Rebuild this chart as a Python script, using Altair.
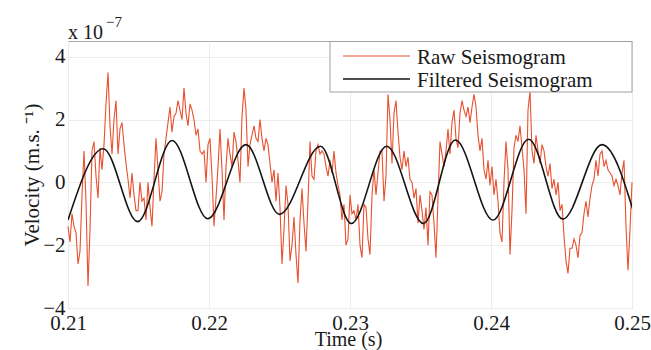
import altair as alt
import numpy as np
import pandas as pd

FONT = "Liberation Serif"
RED = "#e8502e"
TXT = "#1a1a1a"

# Time window (s) and axis ticks; velocities are in units of 1e-7 m/s
T_START, T_END = 0.21, 0.25
x_ticks = [0.21, 0.22, 0.23, 0.24, 0.25]
y_ticks = [-4, -2, 0, 2, 4]

raw_values = [
    -1.4, -1.9, -1.0, -1.4, -1.6, -2.6, -2.2, -0.4, 1.0, -0.6, -3.3, -1.5, 1.0, 1.3, 0.2, -0.5, 1.1, 0.4,
    1.2, 2.5, 3.5, 1.8, 0.9, 2.0, 2.6, 0.9, 1.7, 1.9, 1.2, 0.6, 0.1, -0.5, 0.3, -0.4, -0.9,
    -0.9, 0.0, -0.6, -0.5, -1.2, 0.0, -0.8, -1.4, 0.1, 1.4, 0.4, -0.6, -0.3, 0.9, 1.4, 1.9, 2.4, 1.6,
    2.1, 2.2, 2.6, 2.3, 2.0, 3.0, 2.2, 1.8, 2.5, 2.3, 2.0, 1.5, 1.7, 1.0, 0.9, 1.0, 0.0,
    1.2, 1.4, 0.2, -1.4, -0.5, 0.5, 1.7, 0.4, -1.2, 0.5, 1.4, 0.9, 0.5, 1.6, 1.3, 0.7, 0.0, 2.1,
    3.0, 2.3, 0.5, 1.2, 1.5, 1.8, 1.4, 1.3, 2.0, 1.4, 1.0, 1.4, 1.2, 0.6, 0.0, 0.4, -0.6,
    0.3, -0.8, -2.6, -1.5, -0.1, -0.7, -2.5, -2.0, -1.1, -2.3, -3.2, -1.2, -0.2, -1.3, -2.2, -0.6, 1.3, 0.2,
    0.1, 1.0, 1.2, 0.9, 1.0, 0.9, 0.5, 0.2, 0.7, 0.3, 1.0, 0.3, -0.1, -0.4, -1.2, -0.7, -2.0,
    -1.8, -0.4, -1.0, -0.9, -1.2, -0.7, -2.0, -2.4, -0.7, -0.8, -1.8, -2.3, -0.4, 0.4, -0.4, 0.3, 1.0, 1.0,
    -0.6, 0.2, 2.8, 2.0, 0.6, 2.2, 2.6, 1.6, 0.8, 0.4, 1.0, 0.5, 0.8, 0.1, 0.0, -0.5, -0.2,
    -1.3, -0.4, -0.9, -1.5, -0.8, -2.0, -0.3, -0.4, -1.3, -2.4, -0.5, 1.3, 0.9, 0.5, 1.0, 1.7, 0.9, 1.9,
    2.3, 1.4, 1.1, 2.2, 2.6, 2.3, 2.1, 2.4, 1.9, 2.4, 2.8, 2.4, 1.5, 1.0, 1.4, 0.4, 0.1,
    0.7, -0.1, 0.5, -0.4, 0.1, -0.6, -1.6, -1.9, 0.0, 1.3, 0.4, -2.3, -0.9, 1.1, 1.5, 1.3, 1.8, 1.1,
    0.4, -1.0, 2.3, 2.9, 1.0, 0.6, 1.5, 1.0, 0.6, 1.2, 1.0, 0.5, 0.2, 0.6, -0.2, 0.1, -0.4,
    0.0, -0.9, -0.7, -1.7, -2.5, -2.9, -2.1, -2.1, -1.8, -2.0, -2.4, -1.7, -1.6, -1.0, -0.6, -1.1, -0.5, -0.1,
    0.1, 0.7, 0.2, 0.9, 1.0, 0.5, 0.7, 0.4, 0.3, 0.2, -0.1, 0.1, -0.1, -0.4, 0.3, 0.7, -1.4, -2.8, -1.5, 0.0,
]
raw_time = np.linspace(T_START, T_END, len(raw_values))

# Filtered seismogram: its successive troughs and peaks
filt_time = [0.21, 0.2125, 0.21494, 0.21738, 0.21991, 0.22262, 0.2250, 0.22791, 0.23009,
             0.23260, 0.23521, 0.23747, 0.24014, 0.24267, 0.24509, 0.24787, 0.25035]
filt_values = [-1.2, 1.07, -1.25, 1.33, -1.16, 1.2, -1.02, 1.15, -1.31,
               1.15, -1.31, 1.35, -1.2, 1.37, -1.17, 1.2, -1.3]

legend_labels = ["Raw Seismogram", "Filtered Seismogram"]

raw_df = pd.DataFrame({"t": raw_time, "v": raw_values})
filt_df = pd.DataFrame({"t": filt_time, "v": filt_values})

x_enc = alt.X(
    "t:Q",
    scale=alt.Scale(domain=[T_START, T_END], nice=False, zero=False),
    axis=alt.Axis(
        values=x_ticks, format=".2f", grid=True, gridColor="#ececec", domain=False,
        ticks=False, tickSize=0, labelFont=FONT, labelFontSize=21, labelColor=TXT,
        labelPadding=4, labelFlush=False, labelOverlap=False, labelBound=False,
        title="Time (s)", titleFont=FONT, titleFontSize=20, titleFontWeight="normal",
        titleColor=TXT, titleBaseline="alphabetic", titleY=37.5, titleX=280,
    ),
)
y_enc = alt.Y(
    "v:Q",
    scale=alt.Scale(domain=[-4, 4.5], nice=False, zero=False),
    axis=alt.Axis(
        values=y_ticks, format="d", grid=True, gridColor="#ececec", domain=False,
        ticks=False, tickSize=0, labelFont=FONT, labelFontSize=21, labelColor=TXT,
        labelPadding=3, labelOverlap=False, labelBound=False,
        title="Velocity (m.s. \u207b\u00b9)", titleFont=FONT,
        titleFontSize=21, titleFontWeight="normal", titleColor=TXT, titleAngle=270,
        titleBaseline="alphabetic", titleAlign="center", titleX=-30, titleY=133.5,
    ),
)

raw = alt.Chart(raw_df).mark_line(color=RED, strokeWidth=1.1).encode(x=x_enc, y=y_enc)
filt = alt.Chart(filt_df).mark_line(
    color="#151515", strokeWidth=1.6, interpolate="monotone", clip=True
).encode(x="t:Q", y="v:Q")

# Legend box (top-right, inside the plot)
leg_box = alt.Chart(raw_df.head(1)).mark_rect(
    fill="white", stroke="#a0a0a0", strokeWidth=1
).encode(x=alt.value(262), x2=alt.value(564), y=alt.value(0.5), y2=alt.value(51))
leg_red = alt.Chart(raw_df.head(1)).mark_rule(color=RED, strokeWidth=1).encode(
    x=alt.value(275), x2=alt.value(342), y=alt.value(15))
leg_blk = alt.Chart(raw_df.head(1)).mark_rule(color="#151515", strokeWidth=1.6).encode(
    x=alt.value(275), x2=alt.value(342), y=alt.value(38))
leg_t1 = alt.Chart(raw_df.head(1)).mark_text(
    text=legend_labels[0], font=FONT, fontSize=21, color=TXT, align="left", baseline="alphabetic"
).encode(x=alt.value(349), y=alt.value(23))
leg_t2 = alt.Chart(raw_df.head(1)).mark_text(
    text=legend_labels[1], font=FONT, fontSize=21, color=TXT, align="left", baseline="alphabetic"
).encode(x=alt.value(349), y=alt.value(46))

# Exponent note "x 10^-7"
exp_base = alt.Chart(raw_df.head(1)).mark_text(
    text="x 10", font=FONT, fontSize=20, color=TXT, align="left", baseline="alphabetic"
).encode(x=alt.value(0), y=alt.value(-2))
exp_sup = alt.Chart(raw_df.head(1)).mark_text(
    text="\u22127", font=FONT, fontSize=15, color=TXT, align="left", baseline="alphabetic"
).encode(x=alt.value(38), y=alt.value(-14))

chart = alt.layer(
    raw, filt, leg_box, leg_red, leg_blk, leg_t1, leg_t2, exp_base, exp_sup
).properties(
    width=564, height=267,
    autosize=alt.AutoSizeParams(type="none"),
    padding={"left": 68, "top": 41, "right": 19, "bottom": 42},
    background="white",
).configure_view(stroke="#a8a8a8", strokeWidth=1)

chart.save("out.html", embed_options={"renderer": "svg", "actions": False})
